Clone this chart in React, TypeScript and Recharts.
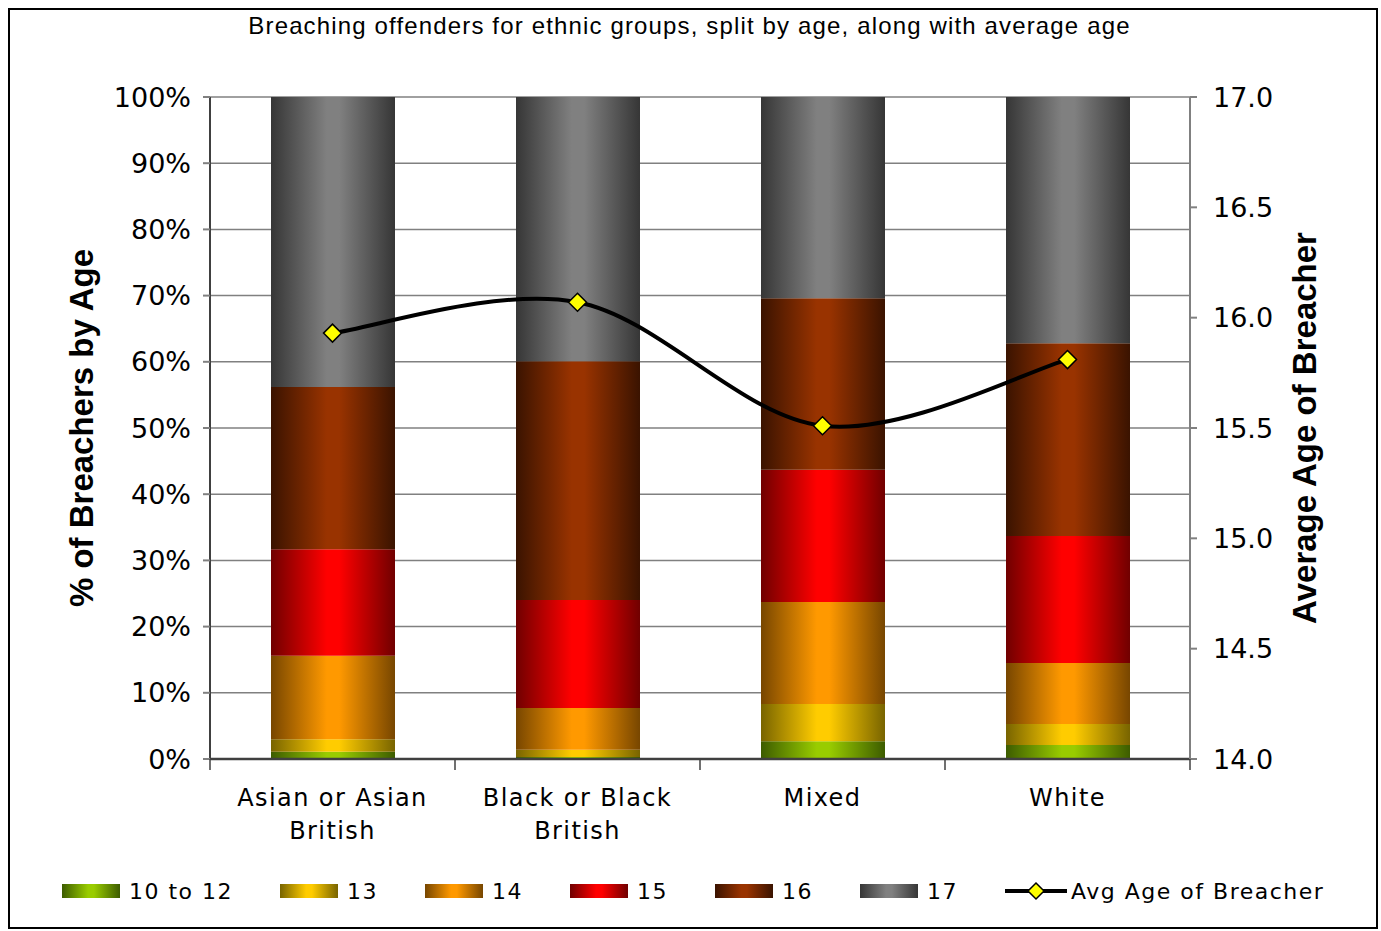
import React from 'react';
import {
  ComposedChart, Bar, Line, XAxis, YAxis, CartesianGrid
} from 'recharts';

const categories = ['Asian or Asian British', 'Black or Black British', 'Mixed', 'White'];
const age10to12 = [1.1, 0.3, 2.7, 2.1];
const age13 = [1.9, 1.1, 5.6, 3.2];
const age14 = [12.6, 6.3, 15.4, 9.2];
const age15 = [16.1, 16.3, 20.0, 19.2];
const age16 = [24.5, 36.1, 25.9, 29.1];
const age17 = [43.8, 39.9, 30.4, 37.2];
const avgAge = [15.93, 16.07, 15.51, 15.81];

const pctTicks = [0, 10, 20, 30, 40, 50, 60, 70, 80, 90, 100];
const ageTicks = [14, 14.5, 15, 15.5, 16, 16.5, 17];

const seriesList = [
  { key: 'a1012', name: '10 to 12', bright: '#99cc00', dark: '#3d5c00', values: age10to12 },
  { key: 'a13', name: '13', bright: '#ffcc00', dark: '#786400', values: age13 },
  { key: 'a14', name: '14', bright: '#ff9900', dark: '#774600', values: age14 },
  { key: 'a15', name: '15', bright: '#ff0000', dark: '#700000', values: age15 },
  { key: 'a16', name: '16', bright: '#993300', dark: '#3a1300', values: age16 },
  { key: 'a17', name: '17', bright: '#808080', dark: '#363636', values: age17 },
];

const data = categories.map((name, i) => {
  const row: any = { name, avg: avgAge[i] };
  seriesList.forEach(s => { row[s.key] = s.values[i]; });
  return row;
});

const W = 1381;
const H = 931;
const BAND = (W - 90 - 120 - 71 - 120) / categories.length;

const tickFont = "'DejaVu Sans', Verdana, sans-serif";

// spreadsheet-style smoothing: Catmull-Rom through the points
const smoothCurve = (context: any) => {
  let pts: number[][] = [];
  return {
    areaStart() {},
    areaEnd() {},
    lineStart() { pts = []; },
    point(x: number, y: number) { pts.push([+x, +y]); },
    lineEnd() {
      if (!pts.length) return;
      context.moveTo(pts[0][0], pts[0][1]);
      for (let i = 0; i < pts.length - 1; i++) {
        const p0 = pts[i - 1] || pts[i];
        const p1 = pts[i];
        const p2 = pts[i + 1];
        const p3 = pts[i + 2] || p2;
        context.bezierCurveTo(
          p1[0] + (p2[0] - p0[0]) / 6, p1[1] + (p2[1] - p0[1]) / 6,
          p2[0] - (p3[0] - p1[0]) / 6, p2[1] - (p3[1] - p1[1]) / 6,
          p2[0], p2[1]
        );
      }
    },
  };
};

const CategoryTick = ({ x, y, payload, index }: any) => {
  const words = String(payload.value).split(' ');
  const lines = words.length > 3
    ? [words.slice(0, -1).join(' '), words[words.length - 1]]
    : [payload.value];
  return (
    <g>
      {index === 0 && (
        <line x1={x - BAND / 2} x2={x - BAND / 2} y1={y} y2={y + 11} stroke="#404040" strokeWidth={1.5} />
      )}
      <line x1={x + BAND / 2} x2={x + BAND / 2} y1={y} y2={y + 11} stroke="#404040" strokeWidth={1.5} />
      <text x={x} y={y} textAnchor="middle" fill="#000"
        style={{ fontFamily: tickFont, fontSize: 24, letterSpacing: 1.4 }}>
        {lines.map((l: string, i: number) => (
          <tspan key={i} x={x} dy={i === 0 ? 47 : 33}>{l}</tspan>
        ))}
      </text>
    </g>
  );
};

const Diamond = ({ cx, cy }: any) => {
  if (cx == null || cy == null) return null;
  const r = 9;
  return (
    <path d={`M${cx},${cy - r}L${cx + r},${cy}L${cx},${cy + r}L${cx - r},${cy}Z`}
      fill="#ffff00" stroke="#000" strokeWidth={1.5} />
  );
};

const swatch = (dark: string, bright: string) =>
  `linear-gradient(to right, ${dark} 0%, ${bright} 45%, ${bright} 55%, ${dark} 100%)`;

export default function App() {
  return (
    <div style={{ position: 'absolute', left: 0, top: 0, width: W, height: H, background: '#fff' }}>
      <div style={{
        position: 'absolute', left: 8, top: 8, width: 1370, height: 921,
        border: '2px solid #000', boxSizing: 'border-box'
      }} />
      <div style={{
        position: 'absolute', left: 0, top: 12, width: W - 2, textAlign: 'center',
        fontFamily: "'Liberation Sans', Arial, sans-serif", fontSize: 24, letterSpacing: 1.15, color: '#000'
      }}>
        Breaching offenders for ethnic groups, split by age, along with average age
      </div>

      <div style={{ position: 'absolute', left: 0, top: 0 }}>
        <ComposedChart width={W} height={H} data={data}
          margin={{ top: 97, right: 71, bottom: 72, left: 90 }}
          barCategoryGap={0} barGap={0}>
          <defs>
            {seriesList.map(s => (
              <linearGradient key={s.key} id={`grad-${s.key}`} x1="0" x2="1" y1="0" y2="0">
                <stop offset="0%" stopColor={s.dark} />
                <stop offset="45%" stopColor={s.bright} />
                <stop offset="55%" stopColor={s.bright} />
                <stop offset="100%" stopColor={s.dark} />
              </linearGradient>
            ))}
          </defs>
          <CartesianGrid yAxisId="left" vertical={false} stroke="#808080" strokeWidth={1.5} />
          <XAxis dataKey="name" xAxisId={0} height={100} tickSize={0} tickMargin={0}
            tickLine={false} interval={0} axisLine={{ stroke: '#404040', strokeWidth: 2.5 }}
            tick={<CategoryTick />} />
          <YAxis yAxisId="left" orientation="left" width={120} domain={[0, 100]}
            ticks={pctTicks} interval={0} tickFormatter={(v: number) => `${v}%`}
            tickSize={7} tickMargin={12}
            axisLine={{ stroke: '#404040', strokeWidth: 2 }}
            tickLine={{ stroke: '#808080', strokeWidth: 2 }}
            tick={{ fill: '#000', fontSize: 27, fontFamily: tickFont }} />
          <YAxis yAxisId="right" orientation="right" width={120} domain={[14, 17]}
            ticks={ageTicks} interval={0} tickFormatter={(v: number) => v.toFixed(1)}
            tickSize={7} tickMargin={16}
            axisLine={{ stroke: '#808080', strokeWidth: 2 }}
            tickLine={{ stroke: '#808080', strokeWidth: 2 }}
            tick={{ fill: '#000', fontSize: 27, fontFamily: tickFont }} />
          {seriesList.map(s => (
            <Bar key={s.key} dataKey={s.key} name={s.name} stackId="age" yAxisId="left"
              fill={`url(#grad-${s.key})`} barSize={124} isAnimationActive={false} />
          ))}
          <Line yAxisId="right" type={smoothCurve as any} dataKey="avg" name="Avg Age of Breacher"
            stroke="#000" strokeWidth={4} dot={<Diamond />} activeDot={false}
            isAnimationActive={false} />
        </ComposedChart>
      </div>

      <div style={{ position: 'absolute', left: 60, top: 428, width: 0, height: 0 }}>
        <div style={{
          position: 'absolute', left: 22, top: 0, transform: 'translate(-50%, -50%) rotate(-90deg)',
          whiteSpace: 'nowrap', fontFamily: "'Liberation Sans', Arial, sans-serif",
          fontWeight: 'bold', fontSize: 33, color: '#000'
        }}>% of Breachers by Age</div>
      </div>
      <div style={{ position: 'absolute', left: 1305, top: 428, width: 0, height: 0 }}>
        <div style={{
          position: 'absolute', left: 0, top: 0, transform: 'translate(-50%, -50%) rotate(-90deg)',
          whiteSpace: 'nowrap', fontFamily: "'Liberation Sans', Arial, sans-serif",
          fontWeight: 'bold', fontSize: 33, color: '#000'
        }}>Average Age of Breacher</div>
      </div>

      <div style={{
        position: 'absolute', left: 62, top: 876, height: 30, display: 'flex', alignItems: 'center',
        fontFamily: tickFont, fontSize: 22, letterSpacing: 1.5, color: '#000', whiteSpace: 'nowrap'
      }}>
        {seriesList.map(s => (
          <div key={s.key} style={{ display: 'flex', alignItems: 'center', marginRight: 47 }}>
            <div style={{ width: 58, height: 14, background: swatch(s.dark, s.bright), marginRight: 9 }} />
            <span>{s.name}</span>
          </div>
        ))}
        <div style={{ display: 'flex', alignItems: 'center' }}>
          <svg width={62} height={20} style={{ marginRight: 4 }}>
            <line x1={0} x2={62} y1={10} y2={10} stroke="#000" strokeWidth={4} />
            <path d="M31,2L39,10L31,18L23,10Z" fill="#ffff00" stroke="#000" strokeWidth={1.5} />
          </svg>
          <span>Avg Age of Breacher</span>
        </div>
      </div>
    </div>
  );
}
